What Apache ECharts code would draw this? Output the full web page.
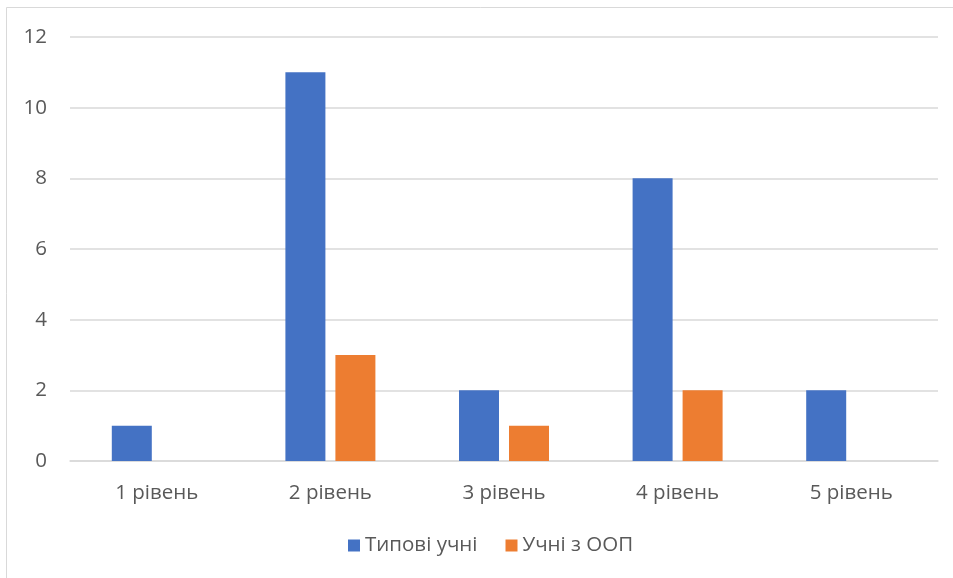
<!DOCTYPE html>
<html>
<head>
<meta charset="utf-8">
<script src="https://cdn.jsdelivr.net/npm/echarts@6/dist/echarts.min.js"></script>
<style>
  html, body { margin: 0; padding: 0; background: #fff; }
  #chart { width: 953px; height: 578px; }
</style>
</head>
<body>
<div id="chart"></div>
<script>
// Levels of achievement and number of pupils per group
const categories = ['1 рівень', '2 рівень', '3 рівень', '4 рівень', '5 рівень'];
const typicalPupils = [1, 11, 2, 8, 2];
const sepPupils = [0, 3, 1, 2, 0];
const seriesNames = ['Типові учні', 'Учні з ООП'];
const yTicks = { min: 0, max: 12, step: 2 };

const chart = echarts.init(document.getElementById('chart'), null, { renderer: 'canvas' });
const textColor = '#595959';
const fontFamily = '"Open Sans", "Noto Sans", sans-serif';
const fontSize = 20.5;

chart.setOption({
  animation: false,
  backgroundColor: '#ffffff',
  graphic: [{
    type: 'rect',
    shape: { x: 6.5, y: 7.5, width: 960, height: 590 },
    style: { fill: 'none', stroke: '#d9d9d9', lineWidth: 1 },
    silent: true
  }],
  grid: { left: 70, right: 15, top: 37, bottom: 117, containLabel: false },
  legend: {
    top: 535,
    left: 348,
    padding: 0,
    itemWidth: 12,
    itemHeight: 12,
    itemGap: 28,
    icon: 'rect',
    textStyle: { color: textColor, fontSize: fontSize, fontFamily: fontFamily },
    data: seriesNames
  },
  xAxis: {
    type: 'category',
    data: categories,
    axisLine: { show: true, lineStyle: { color: '#d9d9d9', width: 1.5 } },
    axisTick: { show: false },
    axisLabel: { color: textColor, fontSize: fontSize, fontFamily: fontFamily, margin: 22 }
  },
  yAxis: {
    type: 'value',
    min: yTicks.min,
    max: yTicks.max,
    interval: yTicks.step,
    axisLine: { show: false },
    axisTick: { show: false },
    axisLabel: { color: textColor, fontSize: fontSize, fontFamily: fontFamily, margin: 23 },
    splitLine: { lineStyle: { color: '#d9d9d9', width: 1.5 } }
  },
  series: [
    {
      name: seriesNames[0],
      type: 'bar',
      data: typicalPupils,
      barWidth: 40,
      barGap: '25%',
      itemStyle: { color: '#4472c4' }
    },
    {
      name: seriesNames[1],
      type: 'bar',
      data: sepPupils,
      barWidth: 40,
      itemStyle: { color: '#ed7d31' }
    }
  ]
});
</script>
</body>
</html>
